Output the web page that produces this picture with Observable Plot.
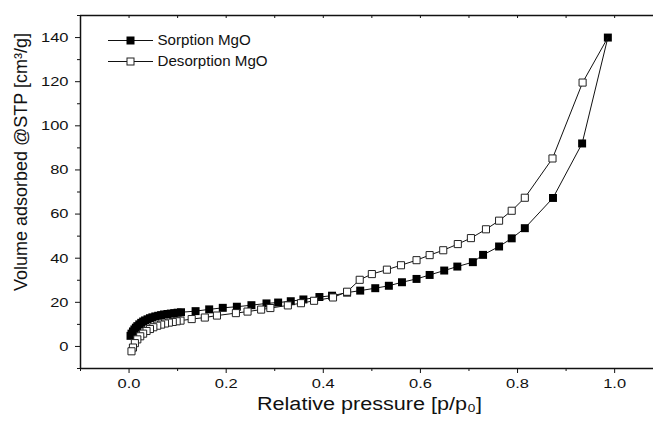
<!DOCTYPE html>
<html>
<head>
<meta charset="utf-8">
<script src="https://cdn.jsdelivr.net/npm/d3@7"></script>
<script src="https://cdn.jsdelivr.net/npm/@observablehq/plot@0.6"></script>
<style>
  html, body { margin: 0; padding: 0; background: white; }
  svg text { font-family: "Liberation Sans", Arial, sans-serif; }
</style>
</head>
<body>
<div id="chart"></div>
<script>
// Sorption branch (filled squares)
const sorpX = [0.003, 0.005, 0.008, 0.011, 0.014, 0.017, 0.021, 0.025, 0.029, 0.033, 0.038, 0.043, 0.048, 0.054, 0.060, 0.066, 0.072, 0.079, 0.086, 0.093, 0.100, 0.107,
  0.137, 0.165, 0.193, 0.222, 0.252, 0.283, 0.307, 0.333, 0.359, 0.392, 0.418, 0.449, 0.476, 0.507, 0.535, 0.562, 0.592, 0.619, 0.649, 0.676, 0.708, 0.729, 0.762, 0.788, 0.815, 0.873, 0.933, 0.986];
const sorpY = [4.8, 5.8, 6.8, 7.7, 8.5, 9.2, 10.0, 10.7, 11.3, 11.8, 12.3, 12.8, 13.2, 13.6, 13.9, 14.2, 14.5, 14.7, 14.9, 15.1, 15.3, 15.5,
  16.0, 16.8, 17.5, 18.0, 18.7, 19.5, 19.9, 20.5, 21.3, 22.4, 23.0, 24.4, 25.3, 26.4, 27.5, 29.1, 30.6, 32.4, 34.4, 36.2, 38.2, 41.5, 45.3, 49.0, 53.6, 67.3, 92.0, 140.0];

// Desorption branch (open squares), from high to low pressure
const desX = [0.986, 0.934, 0.872, 0.815, 0.788, 0.762, 0.735, 0.704, 0.677, 0.647, 0.619, 0.592, 0.560, 0.531, 0.500, 0.475, 0.449, 0.420, 0.381, 0.354, 0.327, 0.291, 0.272, 0.244, 0.220, 0.181, 0.156, 0.129,
  0.106, 0.098, 0.090, 0.082, 0.074, 0.066, 0.058, 0.050, 0.043, 0.036, 0.029, 0.023, 0.017, 0.012, 0.008, 0.005];
const desY = [140.0, 119.6, 85.2, 67.4, 61.5, 57.0, 53.1, 49.1, 46.4, 43.6, 41.4, 39.1, 36.8, 34.8, 32.8, 30.2, 24.8, 22.2, 20.7, 19.6, 18.6, 17.4, 16.7, 15.8, 15.1, 14.0, 13.1, 12.4,
  11.7, 11.4, 11.1, 10.8, 10.4, 9.9, 9.4, 8.7, 7.9, 7.0, 5.8, 4.6, 3.2, 1.5, -0.5, -2.2];

const xMajor = [0.0, 0.2, 0.4, 0.6, 0.8, 1.0];
const xMinor = [-0.1, 0.1, 0.3, 0.5, 0.7, 0.9];
const xTop = [-0.1, 0.0, 0.1, 0.2, 0.3, 0.4, 0.5, 0.6, 0.7, 0.8, 0.9, 1.0];
const yMajor = [0, 20, 40, 60, 80, 100, 120, 140];
const yMinor = [-10, 10, 30, 50, 70, 90, 110, 130, 150];

const seriesNames = ["Sorption MgO", "Desorption MgO"];
const xLabel = "Relative pressure [p/p\u2080]";
const yLabel = "Volume adsorbed @STP [cm\u00b3/g]";

const sorp = sorpX.map((x, i) => ({x, y: sorpY[i]}));
const des = desX.map((x, i) => ({x, y: desY[i]}));

const W = 653, H = 422, mL = 80, mR = 0, mT = 15, mB = 54;
const frameH = H - mT - mB;

const plot = Plot.plot({
  width: W, height: H,
  marginLeft: mL, marginRight: mR, marginTop: mT, marginBottom: mB,
  x: {domain: [-0.1, 1.08]},
  y: {domain: [-10, 150]},
  style: {fontFamily: "Liberation Sans, Arial, sans-serif", fontSize: "13.5px", color: "#111", background: "white", overflow: "visible"},
  marks: [
    Plot.axisX({ticks: xMajor, tickSize: 5, tickPadding: 5, tickFormat: d3.format(".1f"), label: null, fontSize: 13.5}),
    Plot.axisX({ticks: xMinor, tickSize: 3, tickFormat: () => "", label: null}),
    Plot.tickX(xTop, {x: d => d, insetBottom: frameH - 3, stroke: "#111", strokeWidth: 1}),
    Plot.axisY({ticks: yMajor, tickSize: 5, tickPadding: 7, label: null, fontSize: 13.5}),
    Plot.axisY({ticks: yMinor, tickSize: 3, tickFormat: () => "", label: null}),
    Plot.ruleX([-0.1], {stroke: "#111", strokeWidth: 1.5}),
    Plot.ruleY([-10], {stroke: "#111", strokeWidth: 1.5}),
    Plot.ruleY([150], {stroke: "#111", strokeWidth: 1.5}),
    // sorption
    Plot.line(sorp, {x: "x", y: "y", stroke: "#111", strokeWidth: 1}),
    Plot.dot(sorp, {x: "x", y: "y", symbol: "square", r: 4.5, fill: "black", stroke: "none"}),
    // desorption
    Plot.line(des, {x: "x", y: "y", stroke: "#111", strokeWidth: 1}),
    Plot.dot(des.slice(1), {x: "x", y: "y", symbol: "square", r: 4, fill: "white", stroke: "#222", strokeWidth: 1}),
    // axis titles
    Plot.text([xLabel], {text: d => d, frameAnchor: "bottom", textAnchor: "middle", dx: 2.5, dy: 41.5, fontSize: 18, fill: "#111", className: "xtitle"}),
    Plot.text([yLabel], {text: d => d, frameAnchor: "left", textAnchor: "middle", dx: -59, dy: -30, rotate: -90, fontSize: 18, fill: "#111", className: "ytitle"})
  ]
});

document.getElementById("chart").appendChild(plot);

// Legend (top-left, inside the frame)
const svg = d3.select(plot);
const lg = svg.append("g").attr("class", "legend").attr("text-anchor", "start");
seriesNames.forEach((name, i) => {
  const cy = 40.5 + i * 21;
  lg.append("line").attr("x1", 108).attr("x2", 153).attr("y1", cy).attr("y2", cy)
    .attr("stroke", "#111").attr("stroke-width", 1);
  if (i === 0) {
    lg.append("rect").attr("x", 130.5 - 4).attr("y", cy - 4).attr("width", 8).attr("height", 8).attr("fill", "black");
  } else {
    lg.append("rect").attr("x", 130.5 - 3.5).attr("y", cy - 3.5).attr("width", 7).attr("height", 7)
      .attr("fill", "white").attr("stroke", "#222").attr("stroke-width", 1);
  }
  lg.append("text").attr("x", 157.5).attr("y", cy).attr("dy", "0.35em").attr("text-anchor", "start")
    .attr("font-size", 14).attr("fill", "#111").attr("class", "legtext").text(name);
});

// Horizontal stretch of glyphs to mimic the reference's aspect
function stretch(sel, f) {
  sel.each(function () {
    const len = this.getComputedTextLength();
    if (len > 0) {
      this.setAttribute("textLength", (len * f).toFixed(1));
      this.setAttribute("lengthAdjust", "spacingAndGlyphs");
    }
  });
}
svg.selectAll("g[aria-label='x-axis tick label'] text, g[aria-label='y-axis tick label'] text").call(stretch, 1.22);
svg.selectAll(".xtitle text").call(stretch, 1.2);
svg.selectAll(".legtext").call(stretch, 1.08);
</script>
</body>
</html>
